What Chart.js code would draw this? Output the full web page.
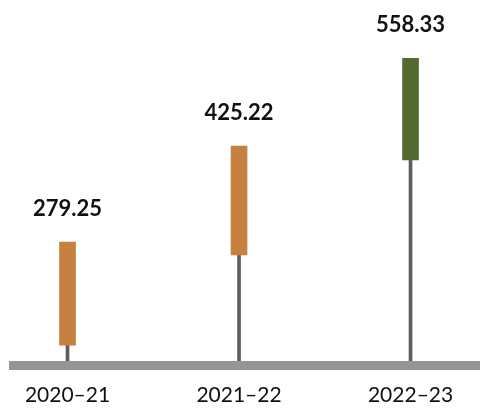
<!DOCTYPE html>
<html>
<head>
<meta charset="utf-8">
<script src="https://cdn.jsdelivr.net/npm/chart.js@4/dist/chart.umd.min.js"></script>
<style>
  html, body { margin: 0; padding: 0; background: #ffffff; }
  #wrap { width: 480px; height: 410px; position: relative; }
</style>
</head>
<body>
<div id="wrap"><canvas id="c"></canvas></div>
<script>
// ---- data ----
const categories = ['2020\u201321', '2021\u201322', '2022\u201323'];
const values = [279.25, 425.22, 558.33];        // top of each box (labelled value)
const boxLow = [123, 260, 404];                 // bottom of each box, in axis units
const axisMin = 92;
const axisMax = 647;
const boxColors = ['#C6803F', '#C6803F', '#556A2F'];

const boxData = values.map((v, i) => ({ x: i, y: [boxLow[i], v] }));
const stemData = values.map((v, i) => ({ x: i, y: [axisMin, boxLow[i]] }));

const valueLabels = {
  id: 'valueLabels',
  afterDatasetsDraw(chart) {
    const ctx = chart.ctx;
    const meta = chart.getDatasetMeta(0);
    ctx.save();
    ctx.font = 'bold 22px Lato';
    ctx.fillStyle = '#111111';
    ctx.textAlign = 'center';
    ctx.textBaseline = 'alphabetic';
    meta.data.forEach((el, i) => {
      ctx.fillText(values[i].toFixed(2), el.x, el.y - 26);
    });
    ctx.restore();
  }
};

new Chart(document.getElementById('c'), {
  type: 'bar',
  data: {
    datasets: [
      {
        data: boxData,
        backgroundColor: boxColors,
        borderWidth: 0,
        barThickness: 16,
        grouped: false
      },
      {
        data: stemData,
        backgroundColor: '#5E5E5E',
        borderWidth: 0,
        barThickness: 3,
        grouped: false
      }
    ]
  },
  options: {
    responsive: true,
    maintainAspectRatio: false,
    animation: false,
    layout: { padding: { left: 13.5, right: 0, top: 0, bottom: 0 } },
    plugins: { legend: { display: false }, tooltip: { enabled: false } },
    scales: {
      x: {
        type: 'linear',
        offset: false,
        min: -0.315,
        max: 2.405,
        afterBuildTicks: (scale) => { scale.ticks = categories.map((c, i) => ({ value: i })); },
        afterFit: (scale) => { scale.height = 44.5; },
        grid: { display: false, drawTicks: false, offset: false },
        border: { display: true, width: 9, color: '#959595', z: 1 },
        ticks: {
          padding: 17.5,
          color: '#111111',
          font: { family: 'Lato', size: 21 },
          callback: (v) => categories[v]
        }
      },
      y: {
        display: false,
        min: axisMin,
        max: axisMax
      }
    }
  },
  plugins: [valueLabels]
});
</script>
</body>
</html>
